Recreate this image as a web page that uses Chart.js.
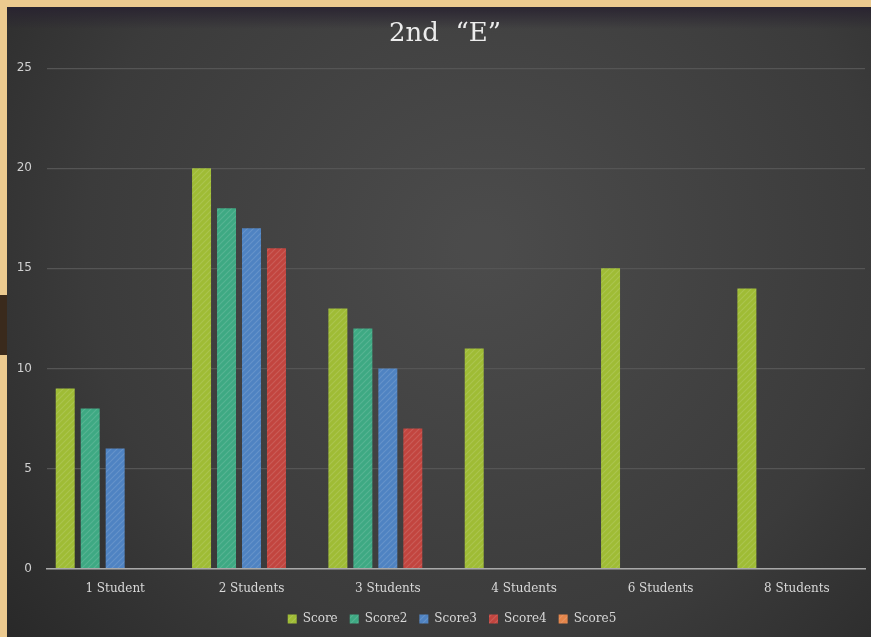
<!DOCTYPE html>
<html>
<head>
<meta charset="utf-8">
<script src="https://cdn.jsdelivr.net/npm/chart.js@4"></script>
<style>
  html, body { margin: 0; padding: 0; }
  body { width: 871px; height: 637px; background: #ecca8f; position: relative; overflow: hidden; }
  #frame { position: absolute; left: 7px; top: 7px; width: 864px; height: 630px; }
  #notch { position: absolute; left: 0; top: 295px; width: 7px; height: 60px; background: #3a2a1c; }
</style>
</head>
<body>
<div id="notch"></div>
<div id="frame"><canvas id="chart" width="864" height="630"></canvas></div>
<script>
// categories and series values
const categories = ['1 Student', '2 Students', '3 Students', '4 Students', '6 Students', '8 Students'];
const score  = [9, 20, 13, 11, 15, 14];
const score2 = [8, 18, 12, null, null, null];
const score3 = [6, 17, 10, null, null, null];
const score4 = [null, 16, 7, null, null, null];
const score5 = [null, null, null, null, null, null];
const yTicks = [0, 5, 10, 15, 20, 25];

// small diagonal hatch like the Excel texture
function hatch(color) {
  const c = document.createElement('canvas');
  c.width = 6; c.height = 6;
  const ctx = c.getContext('2d');
  ctx.fillStyle = color;
  ctx.fillRect(0, 0, 6, 6);
  ctx.strokeStyle = 'rgba(255,255,255,0.13)';
  ctx.lineWidth = 1.2;
  ctx.beginPath();
  ctx.moveTo(0, 6); ctx.lineTo(6, 0);
  ctx.moveTo(-3, 3); ctx.lineTo(3, -3);
  ctx.moveTo(3, 9); ctx.lineTo(9, 3);
  ctx.stroke();
  return ctx.createPattern(c, 'repeat');
}

const series = [
  { label: 'Score',  data: score,  color: '#9fbc35' },
  { label: 'Score2', data: score2, color: '#3ea983' },
  { label: 'Score3', data: score3, color: '#4f83c2' },
  { label: 'Score4', data: score4, color: '#c2453f' },
  { label: 'Score5', data: score5, color: '#e4854a' }
];

// dark backdrop with a soft light spot in the middle
const backdrop = {
  id: 'backdrop',
  beforeDraw(chart) {
    const { ctx, width, height } = chart;
    ctx.save();
    const g = ctx.createRadialGradient(width * 0.55, height * 0.38, 20, width * 0.55, height * 0.38, width * 0.75);
    g.addColorStop(0, '#4b4b4b');
    g.addColorStop(0.6, '#3b3b3b');
    g.addColorStop(1, '#262626');
    ctx.fillStyle = g;
    ctx.fillRect(0, 0, width, height);
    const t = ctx.createLinearGradient(0, 0, 0, 22);
    t.addColorStop(0, 'rgba(40,34,48,0.9)');
    t.addColorStop(1, 'rgba(40,34,48,0)');
    ctx.fillStyle = t;
    ctx.fillRect(0, 0, width, 22);
    ctx.restore();
  }
};

// Excel centres title and legend a little right of the canvas middle
const nudge = {
  id: 'nudge',
  afterLayout(chart) {
    if (chart.titleBlock) { chart.titleBlock.left += 9; chart.titleBlock.right += 9; }
    if (chart.legend) { chart.legend.left += 16; chart.legend.right += 16; }
  }
};

new Chart(document.getElementById('chart'), {
  type: 'bar',
  plugins: [backdrop, nudge],
  data: {
    labels: categories,
    datasets: series.map(s => ({
      label: s.label,
      data: s.data,
      backgroundColor: hatch(s.color),
      borderWidth: 0,
      categoryPercentage: 0.916,
      barPercentage: 0.76
    }))
  },
  options: {
    responsive: false,
    animation: false,
    layout: { padding: { top: 8, right: 6, left: 0, bottom: 2 } },
    scales: {
      x: {
        grid: { display: false },
        border: { color: '#a9a9a9', width: 1.5 },
        ticks: { color: '#d8d8d8', font: { family: 'DejaVu Serif', size: 12 }, padding: 5 }
      },
      y: {
        min: 0, max: 25,
        afterBuildTicks(scale) { scale.ticks = yTicks.map(v => ({ value: v })); },
        afterFit(scale) { scale.width = 40; },
        grid: { color: '#555555', lineWidth: 1.2, drawTicks: false },
        border: { display: false },
        ticks: { color: '#d0d0d0', font: { family: 'DejaVu Sans', size: 12 }, padding: 15 }
      }
    },
    plugins: {
      title: {
        display: true,
        text: '2nd  \u201cE\u201d',
        color: '#ececec',
        font: { family: 'DejaVu Serif', size: 26, weight: 'normal' },
        padding: { top: 4, bottom: 18 }
      },
      legend: {
        position: 'bottom',
        labels: {
          color: '#d8d8d8',
          font: { family: 'DejaVu Serif', size: 12 },
          boxWidth: 9, boxHeight: 9,
          padding: 12
        }
      },
      tooltip: { enabled: false }
    }
  }
});
</script>
</body>
</html>
